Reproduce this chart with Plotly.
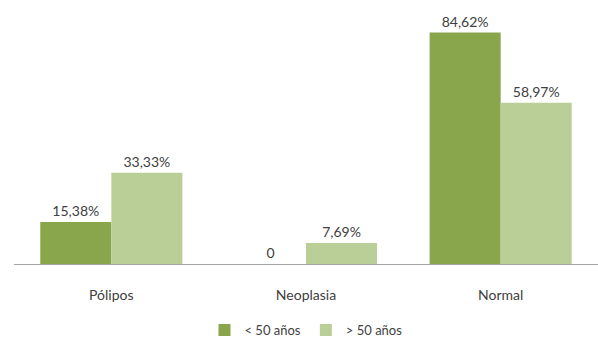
import plotly.graph_objects as go

categories = ["Pólipos", "Neoplasia", "Normal"]
series_names = ["< 50 años", "> 50 años"]
under50 = [15.38, 0, 84.62]
over50 = [33.33, 7.69, 58.97]
colors = ["#8AA64C", "#BACF97"]

def fmt(v):
    if v == 0:
        return "0"
    return f"{v:.2f}".replace(".", ",") + "%"

fig = go.Figure()
for name, vals, col in zip(series_names, [under50, over50], colors):
    fig.add_trace(go.Bar(
        x=categories, y=vals, name=name,
        marker=dict(color=col, line=dict(width=0)),
        text=[fmt(v) for v in vals], textposition="outside",
        textfont=dict(family="Lato, Carlito, sans-serif", size=14, color="#404040"),
        cliponaxis=False,
    ))

fig.update_layout(
    width=598, height=345,
    margin=dict(l=14, r=0, t=0, b=77),
    barmode="group", bargap=0.27, bargroupgap=0,
    plot_bgcolor="white", paper_bgcolor="white",
    font=dict(family="Lato, Carlito, sans-serif", size=14, color="#404040"),
    showlegend=True,
    legend=dict(orientation="h", x=0.50, xanchor="center", y=-0.25, yanchor="middle",
                font=dict(size=13, color="#404040"), itemwidth=30, traceorder="normal"),
)
fig.update_xaxes(showline=True, linecolor="#A6A6A6", linewidth=1, ticks="", showgrid=False,
                 ticklabelstandoff=18, tickfont=dict(size=14, color="#404040"))
fig.update_yaxes(range=[0, 96.5], visible=False, showgrid=False, zeroline=False)

fig.write_html("out.html")
